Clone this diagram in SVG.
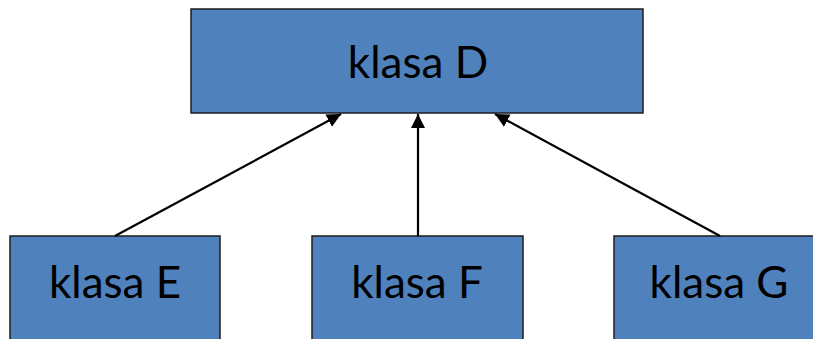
<svg xmlns="http://www.w3.org/2000/svg" width="813" height="339" viewBox="0 0 813 339">
<style>
.box{fill:#4F81BD;stroke:#1c1c1c;stroke-width:1.5}
.lbl{font-family:Lato,"Liberation Sans",Arial,sans-serif;font-size:44px;fill:#000;text-anchor:middle}
.edge{stroke:#000;stroke-width:2.2;fill:none}
</style>
<defs>
<marker id="arr" viewBox="0 0 14 14" refX="14" refY="7" markerWidth="14" markerHeight="14" markerUnits="userSpaceOnUse" orient="auto">
<path d="M0,0 L14,7 L0,14 Z" fill="#000"/>
</marker>
</defs>
<rect width="813" height="339" fill="#fff"/>
<g id="nodeD"><rect class="box" x="191" y="9" width="452" height="104"/><text class="lbl" x="418" y="78">klasa D</text></g>
<g id="nodeE"><rect class="box" x="10" y="236" width="210" height="110"/><text class="lbl" x="115" y="298">klasa E</text></g>
<g id="nodeF"><rect class="box" x="312" y="236" width="211" height="110"/><text class="lbl" x="417" y="298">klasa F</text></g>
<g id="nodeG"><rect class="box" x="614" y="236" width="210" height="110"/><text class="lbl" x="719" y="298">klasa G</text></g>
<g id="connectors">
<line class="edge" x1="115" y1="236" x2="341" y2="114" marker-end="url(#arr)"/>
<line class="edge" x1="418" y1="236" x2="418" y2="114" marker-end="url(#arr)"/>
<line class="edge" x1="720" y1="236" x2="495" y2="114" marker-end="url(#arr)"/>
</g>
</svg>
